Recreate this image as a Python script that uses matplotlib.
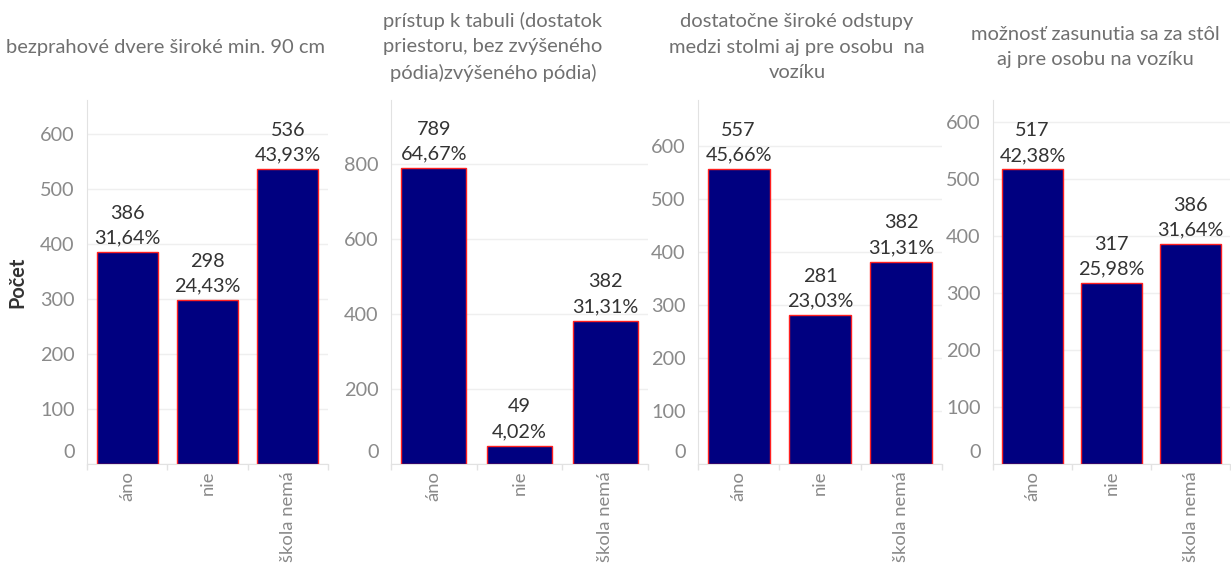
import matplotlib
matplotlib.use("Agg")
import matplotlib.pyplot as plt
import matplotlib.transforms as mtransforms

plt.rcParams['font.family'] = ['Lato', 'DejaVu Sans']

categories = ["áno", "nie", "škola nemá"]
titles = [
    "bezprahové dvere široké min. 90 cm",
    "prístup k tabuli (dostatok\npriestoru, bez zvýšeného\npódia)zvýšeného pódia)",
    "dostatočne široké odstupy\nmedzi stolmi aj pre osobu  na\nvozíku",
    "možnosť zasunutia sa za stôl\naj pre osobu na vozíku",
]
values_door = [386, 298, 536]
values_board = [789, 49, 382]
values_space = [557, 281, 382]
values_table = [517, 317, 386]
series = [values_door, values_board, values_space, values_table]
total = 1220

yticks = [list(range(0, 601, 100)), list(range(0, 801, 200)),
          list(range(0, 601, 100)), list(range(0, 601, 100))]
ytops = [662, 970, 687, 639]

W, H = 1231, 569
fig = plt.figure(figsize=(W / 100, H / 100), dpi=100)

panels = [(87, 328), (391, 648), (698, 942), (993, 1230)]
title_cx = [166, 493, 797, 1095]
top_px, bot_px = 100, 464

NAVY = "#000080"
EDGE = "#ff2020"
TICK_GRAY = "#8a8a8a"
TITLE_GRAY = "#707070"
LABEL_DARK = "#333333"
GRID = "#efefef"
AXIS = "#e2e2e2"
FS = 14.3

for i, (l, r) in enumerate(panels):
    ax = fig.add_axes([l / W, (H - bot_px) / H, (r - l) / W, (bot_px - top_px) / H])
    vals = series[i]
    x = list(range(len(categories)))
    ax.bar(x, vals, width=0.76, color=NAVY, edgecolor=EDGE, linewidth=1.0, zorder=3)
    ax.set_xlim(-0.5, 2.5)
    ax.set_ylim(0, ytops[i])
    ax.set_yticks(yticks[i])
    ax.set_yticklabels([str(t) for t in yticks[i]])
    ax.tick_params(axis='y', length=0, pad=9, labelsize=FS, labelcolor=TICK_GRAY)
    ax.grid(axis='y', color=GRID, linewidth=1, zorder=0)
    ax.set_xticks(x)
    ax.set_xticklabels(categories, rotation=90, va='top', ha='center')
    ax.tick_params(axis='x', which='major', length=0, pad=5, labelsize=13.3, labelcolor=TICK_GRAY)
    ax.set_xticks([-0.5, 0.5, 1.5, 2.5], minor=True)
    ax.tick_params(axis='x', which='minor', length=4, color=AXIS, width=1)
    for s in ['top', 'right']:
        ax.spines[s].set_visible(False)
    ax.spines['left'].set_color(AXIS)
    ax.spines['bottom'].set_color(AXIS)
    ax.set_facecolor('white')

    # shift "0" label up (Tableau style)
    lbl0 = ax.yaxis.get_major_ticks()[0].label1
    lbl0.set_transform(lbl0.get_transform() +
                       mtransforms.ScaledTranslation(0, 13 / 100, fig.dpi_scale_trans))

    for xi, v in zip(x, vals):
        pct = f"{v / total * 100:.2f}".replace(".", ",") + "%"
        ax.annotate(f"{v}\n{pct}", xy=(xi, v), xytext=(0, 4), textcoords='offset points',
                    ha='center', va='bottom', fontsize=FS, color=LABEL_DARK,
                    linespacing=1.55, zorder=4, annotation_clip=False)

    if i == 0:
        ax.set_ylabel("Počet", fontsize=FS, fontweight='bold', color=LABEL_DARK)
        ax.yaxis.set_label_coords(-0.249, 0.5)

    fig.text(title_cx[i] / W, 1 - 47 / H, titles[i], ha='center', va='center',
             fontsize=14.5, color=TITLE_GRAY, linespacing=1.58)

fig.savefig("out.png", dpi=100, facecolor='white')
